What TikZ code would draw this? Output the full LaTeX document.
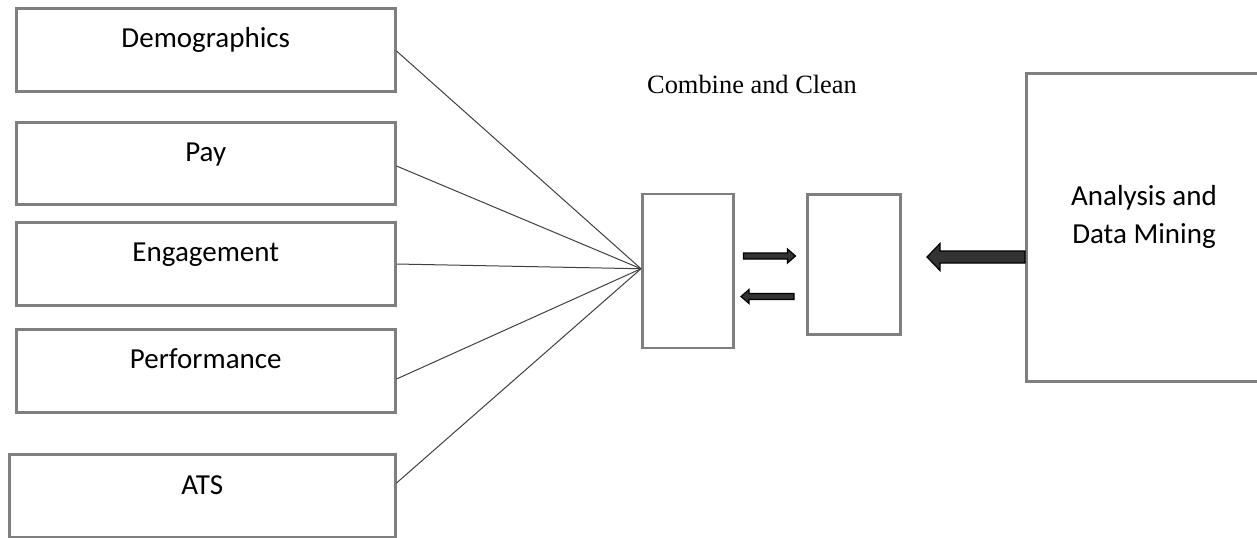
\documentclass[tikz,border=0pt]{standalone}
\usepackage{fontspec}
\setmainfont{Carlito}
\newfontfamily\timesfont{Liberation Serif}
\usetikzlibrary{calc}
\definecolor{boxgray}{HTML}{7F7F7F}
\definecolor{linegray}{HTML}{404040}
\definecolor{arrowfill}{HTML}{333333}
\tikzset{
  srcbox/.style={draw=boxgray, line width=1.25pt, fill=white, inner sep=0pt, anchor=north west},
  lbl/.style={anchor=base, inner sep=0pt, font=\fontsize{14.5}{17}\selectfont},
  conn/.style={draw=linegray, line width=0.5pt},
  blockarrow/.style={draw=black, fill=arrowfill, line width=0.6pt, line join=miter}
}
\begin{document}
\begin{tikzpicture}[x=0.5pt, y=-0.5pt]
\useasboundingbox (0,0) rectangle (1257,537);
% source boxes
\node[srcbox, minimum width=189.5pt, minimum height=41.5pt] (demo) at (15,7) {};
\node[srcbox, minimum width=189.5pt, minimum height=41pt] (pay) at (15,121) {};
\node[srcbox, minimum width=189.5pt, minimum height=41.5pt] (eng) at (15,221) {};
\node[srcbox, minimum width=189.5pt, minimum height=41.5pt] (perf) at (15,328) {};
\node[srcbox, minimum width=193pt, minimum height=41.5pt] (ats) at (8,453) {};
% labels
\node[lbl] (demot) at ($(demo.north)+(0,40)$) {Demographics};
\node[lbl] (payt) at ($(pay.north)+(0,40)$) {Pay};
\node[lbl] (engt) at ($(eng.north)+(0,40)$) {Engagement};
\node[lbl] (perft) at ($(perf.north)+(0,40)$) {Performance};
\node[lbl] (atst) at ($(ats.north)+(0,41)$) {ATS};
% middle boxes
\node[srcbox, minimum width=45.5pt, minimum height=77pt] (cl) at (641,192.5) {};
\node[srcbox, minimum width=46.5pt, minimum height=70pt] (cl2) at (806,193) {};
\node[anchor=base, inner sep=0pt, font=\timesfont\fontsize{13.2}{16}\selectfont] (cct) at (752,93) {Combine and Clean};
% analysis box
\node[srcbox, minimum width=122pt, minimum height=154pt] (ana) at (1025,72) {};
\node[lbl] (anat1) at (1144,205) {Analysis and};
\node[lbl] (anat2) at (1144,243) {Data Mining};
% connectors
\coordinate (hub) at ($(cl.west)+(0,-2)$);
\draw[conn] ($(demo.north east)+(0,44)$) -- (hub);
\draw[conn] ($(pay.north east)+(0,45)$) -- (hub);
\draw[conn] ($(eng.north east)+(0,43)$) -- (hub);
\draw[conn] ($(perf.north east)+(0,51)$) -- (hub);
\draw[conn] ($(ats.north east)+(0,30)$) -- (hub);
% small block arrows between middle boxes
\draw[blockarrow] ($(cl.north east)+(9,60.5)$) -- ++(44,0) -- ++(0,-4) -- ++(8,7) -- ++(-8,7) -- ++(0,-4) -- ++(-44,0) -- cycle;
\draw[blockarrow] ($(cl2.north west)+(-12,100.5)$) -- ++(-45,0) -- ++(0,-4) -- ++(-8,7) -- ++(8,7) -- ++(0,-4) -- ++(45,0) -- cycle;
% big block arrow
\draw[blockarrow] ($(ana.north west)+(0,179)$) -- ++(-85,0) -- ++(0,-7.5) -- ++(-13,13.5) -- ++(13,13.5) -- ++(0,-7.5) -- ++(85,0) -- cycle;
\end{tikzpicture}
\end{document}
